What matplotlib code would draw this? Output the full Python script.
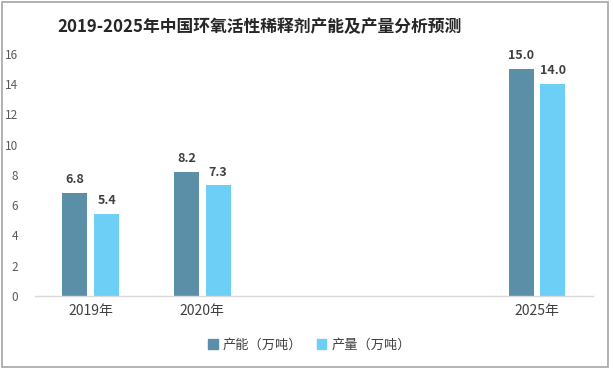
import matplotlib
matplotlib.use("Agg")
import matplotlib.pyplot as plt
from matplotlib.patches import Rectangle, Patch
import numpy as np

plt.rcParams['font.family'] = ['Noto Sans CJK SC', 'DejaVu Sans']

categories = ['2019年', '2020年', '', '', '2025年']
capacity = [6.8, 8.2, None, None, 15.0]
output = [5.4, 7.3, None, None, 14.0]
series_names = ['产能（万吨）', '产量（万吨）']
colors = ['#5B8FA8', '#6DCFF6']
yticks = [0, 2, 4, 6, 8, 10, 12, 14, 16]

fig = plt.figure(figsize=(6.13, 3.69), dpi=100)
fig.patches.append(Rectangle((0.004, 0.006), 0.988, 0.988, transform=fig.transFigure,
                             fill=False, edgecolor='#A6A6A6', linewidth=1.2))
ax = fig.add_axes([0.057, 0.198, 0.910, 0.656])

x = np.arange(len(categories))
w = 0.224
off = 0.143
for vals, sign, col, name in [(capacity, -1, colors[0], series_names[0]),
                              (output, 1, colors[1], series_names[1])]:
    xs = [xi + sign * off for xi, v in zip(x, vals) if v is not None]
    vs = [v for v in vals if v is not None]
    bars = ax.bar(xs, vs, width=w, color=col, label=name, zorder=2)
    for b, v in zip(bars, vs):
        ax.annotate(f'{v:.1f}', (b.get_x() + b.get_width() / 2, v),
                    xytext=(0, 5), textcoords='offset points',
                    ha='center', va='bottom', fontsize=9, fontweight='bold',
                    color='#404040')

ax.set_xlim(-0.5, len(categories) - 0.5)
ax.set_ylim(0, 16)
ax.set_yticks(yticks)
ax.set_xticks(x)
ax.set_xticklabels(categories, fontsize=10, color='#404040')
ax.tick_params(axis='y', length=0, pad=12, labelsize=8.5, labelcolor='#595959')
ax.tick_params(axis='x', length=0, pad=6)
for s in ['left', 'right', 'top']:
    ax.spines[s].set_visible(False)
ax.spines['bottom'].set_color('#D9D9D9')
ax.spines['bottom'].set_linewidth(1.0)

fig.text(0.424, 0.927, '2019-2025年中国环氧活性稀释剂产能及产量分析预测',
         ha='center', va='center', fontsize=12.1, fontweight='bold', color='#262626')

handles = [Patch(color=colors[0], label=series_names[0]),
           Patch(color=colors[1], label=series_names[1])]
fig.legend(handles=handles, loc='center', bbox_to_anchor=(0.505, 0.065), ncol=2,
           frameon=False, fontsize=9.5, handlelength=0.7, handleheight=0.7,
           handletextpad=0.4, columnspacing=1.1, labelcolor='#404040')

fig.savefig('out.png', dpi=100)
